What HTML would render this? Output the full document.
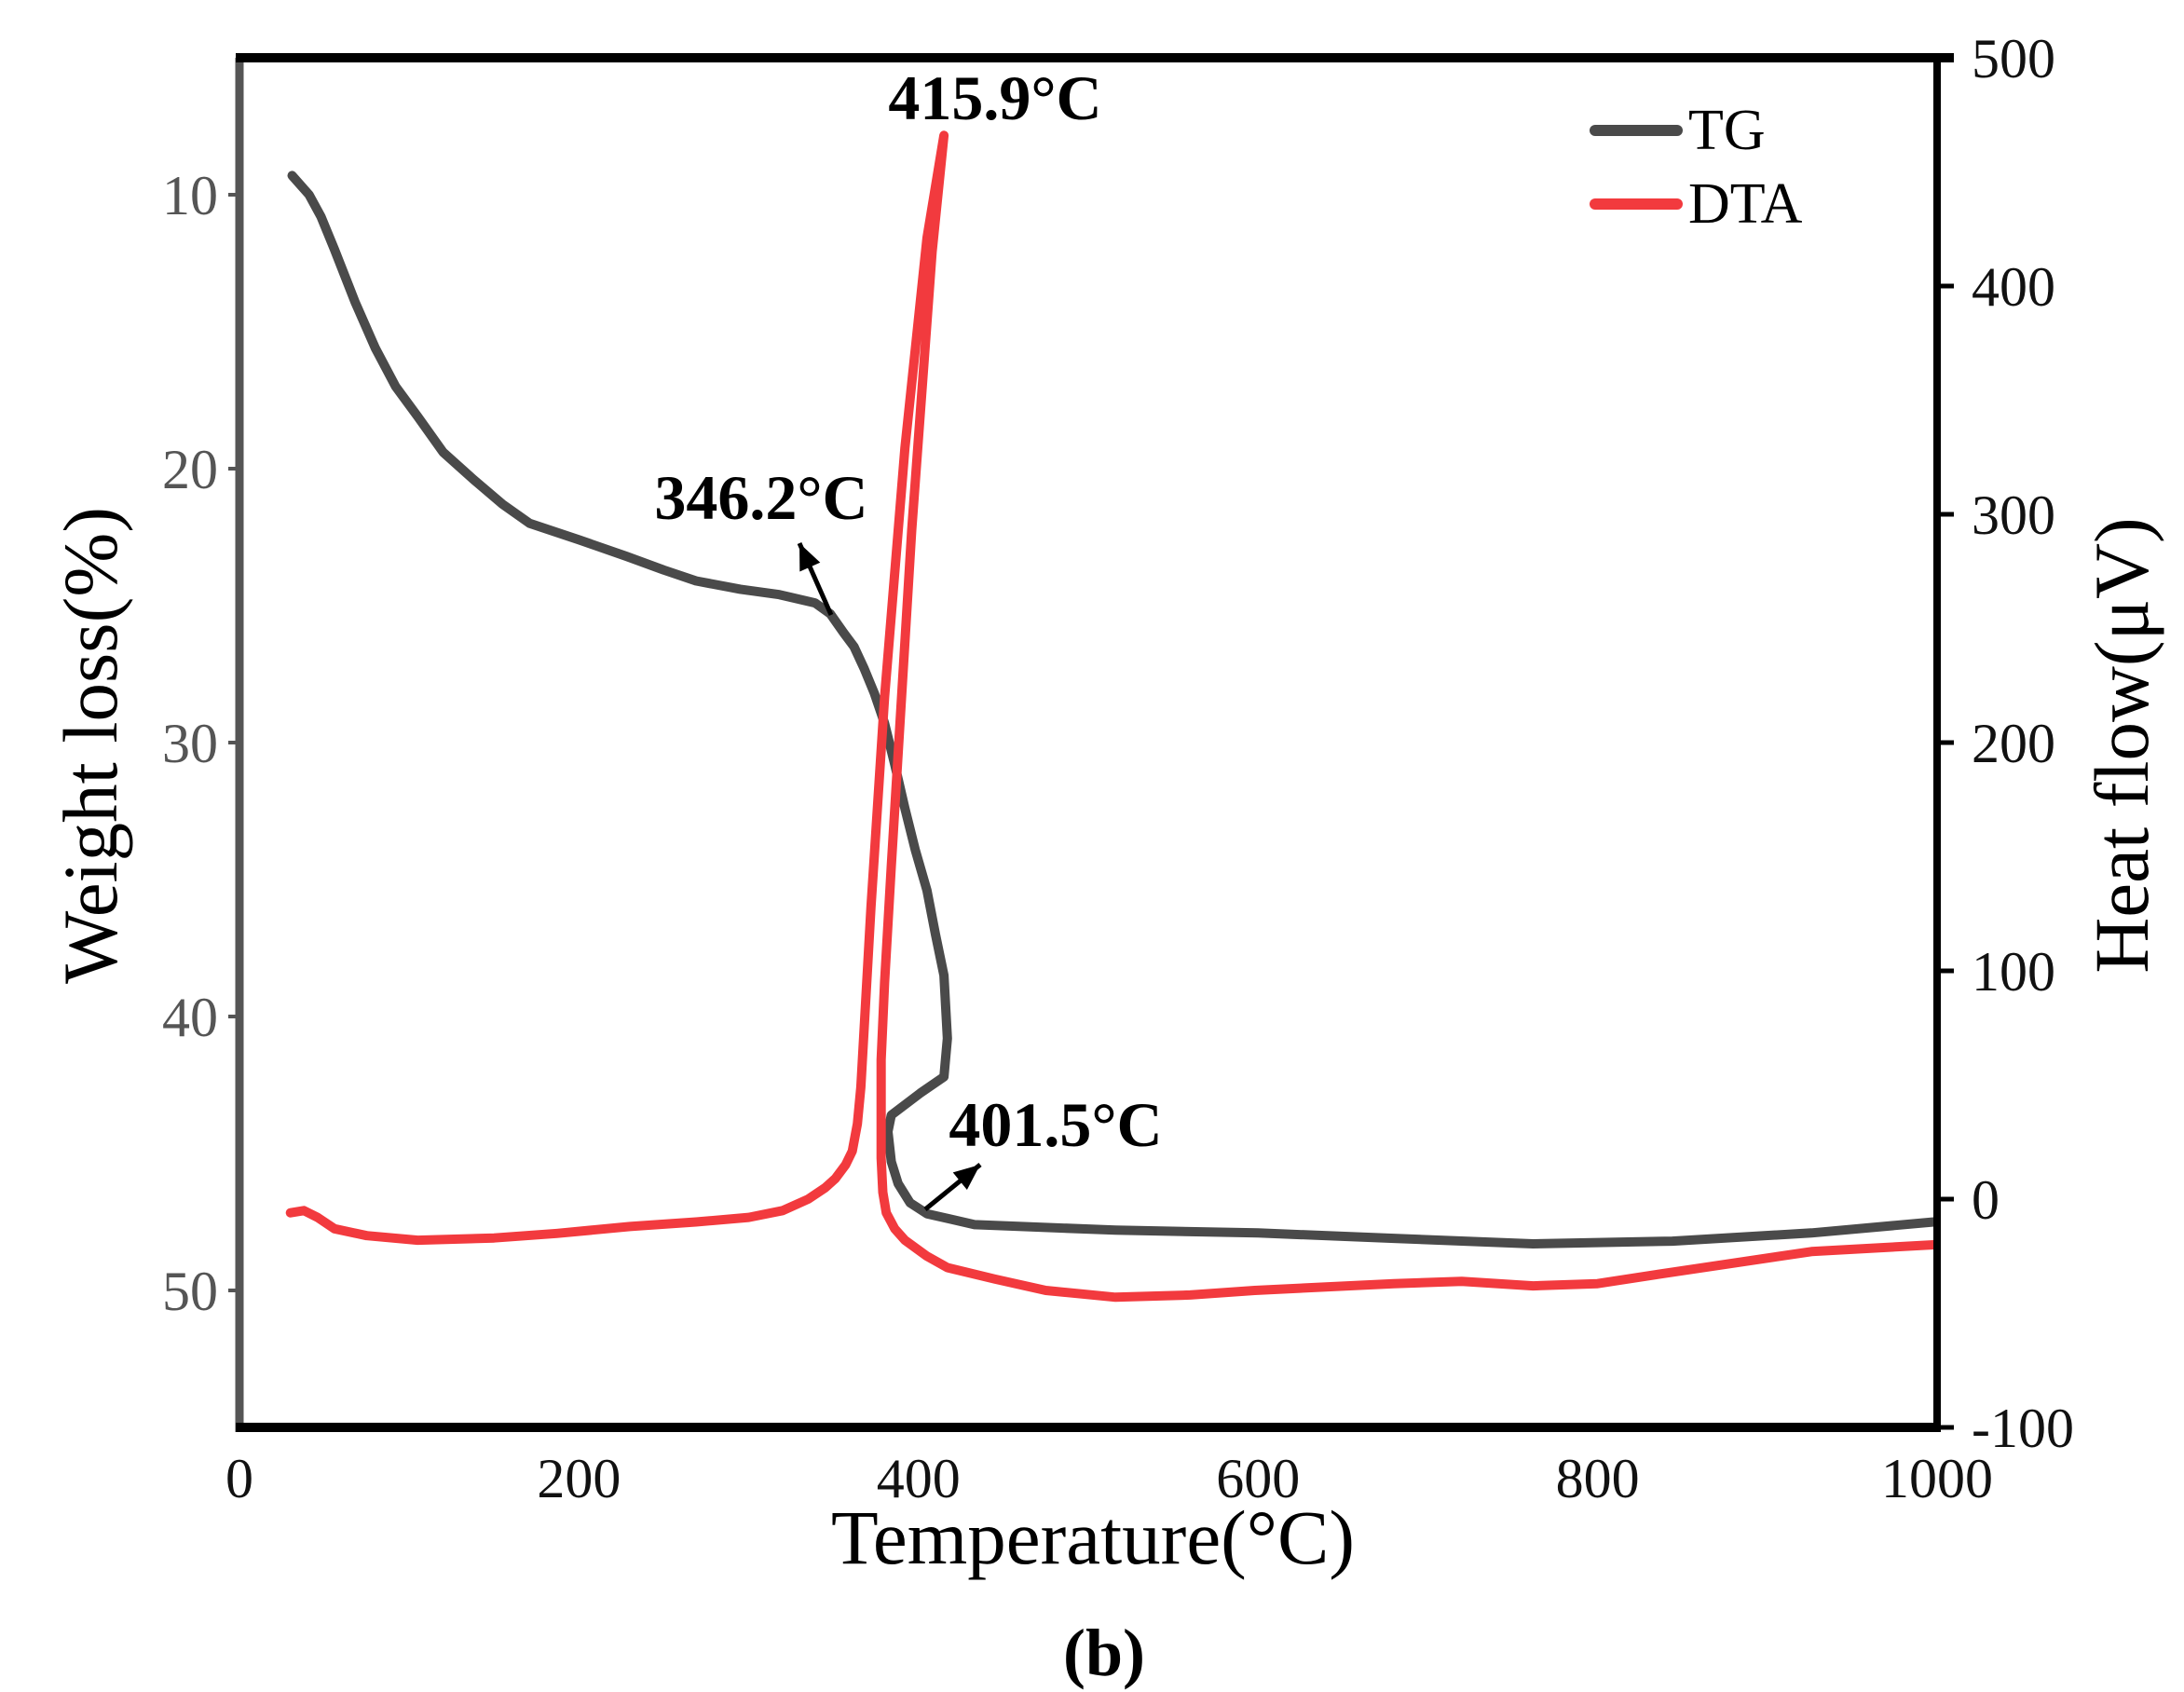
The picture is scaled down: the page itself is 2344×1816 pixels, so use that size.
<!DOCTYPE html>
<html><head><meta charset="utf-8"><style>
html,body{margin:0;padding:0;background:#fff}
svg{display:block}
text{font-family:"Liberation Serif",serif}
</style></head><body>
<svg id="chart" width="2344" height="1816" viewBox="0 0 2344 1816" xmlns="http://www.w3.org/2000/svg">
<g id="plot"></g>
</svg>
<script>
const tgTemp = [31,41,48,56,68,80,92,105,120,138,155,171,200,228,250,269,295,318,339,348,356,362,368,374,380,386,392,398,405,410,415,417,415,401,384,382,384,388,395,405,433,516,600,680,762,844,926,998];
const tgWeight = [9.3,10,10.8,12,13.9,15.6,17,18.1,19.4,20.4,21.3,22,22.6,23.2,23.7,24.1,24.4,24.6,24.9,25.3,26,26.5,27.3,28.2,29.3,30.8,32.4,33.9,35.4,37,38.5,40.8,42.2,42.8,43.6,44.2,45.3,46.1,46.8,47.2,47.6,47.8,47.9,48.1,48.3,48.2,47.9,47.5];
const dtaTemp = [30,38,46,56,75,105,150,187,230,269,300,320,335,345,351,357,361,364,366,372,380,392,405,415,408,396,384,380,378,378,379,381,386,392,405,417,445,475,516,560,598,680,720,762,800,844,926,998];
const dtaHeat = [-6,-5,-8,-13,-16,-18,-17,-15,-12,-10,-8,-5,0,5,9,15,21,33,49,128,220,329,421,466,415,293,146,95,61,18,3,-6,-13,-18,-25,-30,-35,-40,-43,-42,-40,-37,-36,-38,-37,-32,-23,-20];
const xTicks = [0,200,400,600,800,1000];
const leftTicks = [10,20,30,40,50];
const rightTicks = [-100,0,100,200,300,400,500];

const X0=257,X1=2079,YT=62,YB=1532;
const xs = t => X0 + (t-0)/(1000)*(X1-X0);
const yl = v => YT + (v-5)/(55-5)*(YB-YT);
const yr = v => YB - (v+100)/600*(YB-YT);
const NS="http://www.w3.org/2000/svg";
const g=document.getElementById('plot');
function mk(tag,attrs,parent){const e=document.createElementNS(NS,tag);for(const k in attrs)e.setAttribute(k,attrs[k]);(parent||g).appendChild(e);return e;}
function txt(s,attrs){const e=mk('text',attrs);e.textContent=s;return e;}

let d=tgTemp.map((t,i)=>(i?'L':'M')+xs(t).toFixed(1)+','+yl(tgWeight[i]).toFixed(1)).join('');
let tg=mk('path',{d:d,fill:'none',stroke:'#4a4a4a','stroke-width':10,'stroke-linejoin':'round','stroke-linecap':'round'});


d=dtaTemp.map((t,i)=>(i?'L':'M')+xs(t).toFixed(1)+','+yr(dtaHeat[i]).toFixed(1)).join('');
let dta=mk('path',{d:d,fill:'none',stroke:'#f23a3e','stroke-width':10,'stroke-linejoin':'round','stroke-linecap':'round'});



let a;
a=mk('line',{x1:X0,y1:YT,x2:X0,y2:YB+5,stroke:'#555','stroke-width':9});


a=mk('line',{x1:X0-4,y1:YB,x2:X1+4,y2:YB,stroke:'#000','stroke-width':10});


a=mk('line',{x1:X0-4,y1:YT,x2:X1+18,y2:YT,stroke:'#000','stroke-width':10});


a=mk('line',{x1:X1,y1:YT,x2:X1,y2:YB,stroke:'#000','stroke-width':8});



xTicks.forEach(t=>{
  const e=txt(String(t),{x:xs(t),y:1607,'font-size':60,'text-anchor':'middle',fill:'#111'});
  
  
});
leftTicks.forEach(v=>{
  const l=mk('line',{x1:X0-12,y1:yl(v),x2:X0,y2:yl(v),stroke:'#555','stroke-width':4});
  
  
  const e=txt(String(v),{x:234,y:yl(v)+21,'font-size':60,'text-anchor':'end',fill:'#555'});
  
  
});
rightTicks.forEach(v=>{
  const l=mk('line',{x1:X1,y1:yr(v),x2:X1+18,y2:yr(v),stroke:'#000','stroke-width':5});
  
  
  const e=txt(String(v),{x:2116,y:yr(v)+21,'font-size':60,'text-anchor':'start',fill:'#111'});
  
  
});

let t;
t=txt('Temperature(°C)',{x:1173,y:1678,'font-size':83,'text-anchor':'middle',fill:'#000'});


t=txt('Weight loss(%)',{x:0,y:0,'font-size':83,'text-anchor':'middle',fill:'#000',transform:'translate(125,800) rotate(-90)'});


t=txt('Heat flow(μV)',{x:0,y:0,'font-size':83,'text-anchor':'middle',fill:'#000',transform:'translate(2305,800) rotate(-90)'});


t=txt('(b)',{x:1185,y:1798,'font-size':72,'font-weight':'bold','text-anchor':'middle',fill:'#000'});



t=txt('415.9°C',{x:1068,y:128,'font-size':68,'font-weight':'bold','text-anchor':'middle',fill:'#000'});


t=txt('346.2°C',{x:817,y:557,'font-size':68,'font-weight':'bold','text-anchor':'middle',fill:'#000'});


t=txt('401.5°C',{x:1133,y:1230,'font-size':68,'font-weight':'bold','text-anchor':'middle',fill:'#000'});


function arrow(x1,y1,x2,y2,name){
  const l=mk('line',{x1:x1,y1:y1,x2:x2,y2:y2,stroke:'#000','stroke-width':5});
  
  
  const ang=Math.atan2(y2-y1,x2-x1),L=28,W=12;
  const bx=x2-L*Math.cos(ang),by=y2-L*Math.sin(ang);
  const p=mk('polygon',{points:`${x2},${y2} ${bx+W*Math.sin(ang)},${by-W*Math.cos(ang)} ${bx-W*Math.sin(ang)},${by+W*Math.cos(ang)}`,fill:'#000'});
  
  
}
arrow(892,660,858,583,'onset-arrow');
arrow(993,1298,1052,1250,'end-arrow');

t=mk('line',{x1:1712,y1:140,x2:1800,y2:140,stroke:'#4a4a4a','stroke-width':12,'stroke-linecap':'round'});


t=txt('TG',{x:1812,y:160,'font-size':62,fill:'#000'});


t=mk('line',{x1:1712,y1:219,x2:1800,y2:219,stroke:'#f23a3e','stroke-width':12,'stroke-linecap':'round'});


t=txt('DTA',{x:1812,y:239,'font-size':62,fill:'#000'});


</script>
</body></html>
